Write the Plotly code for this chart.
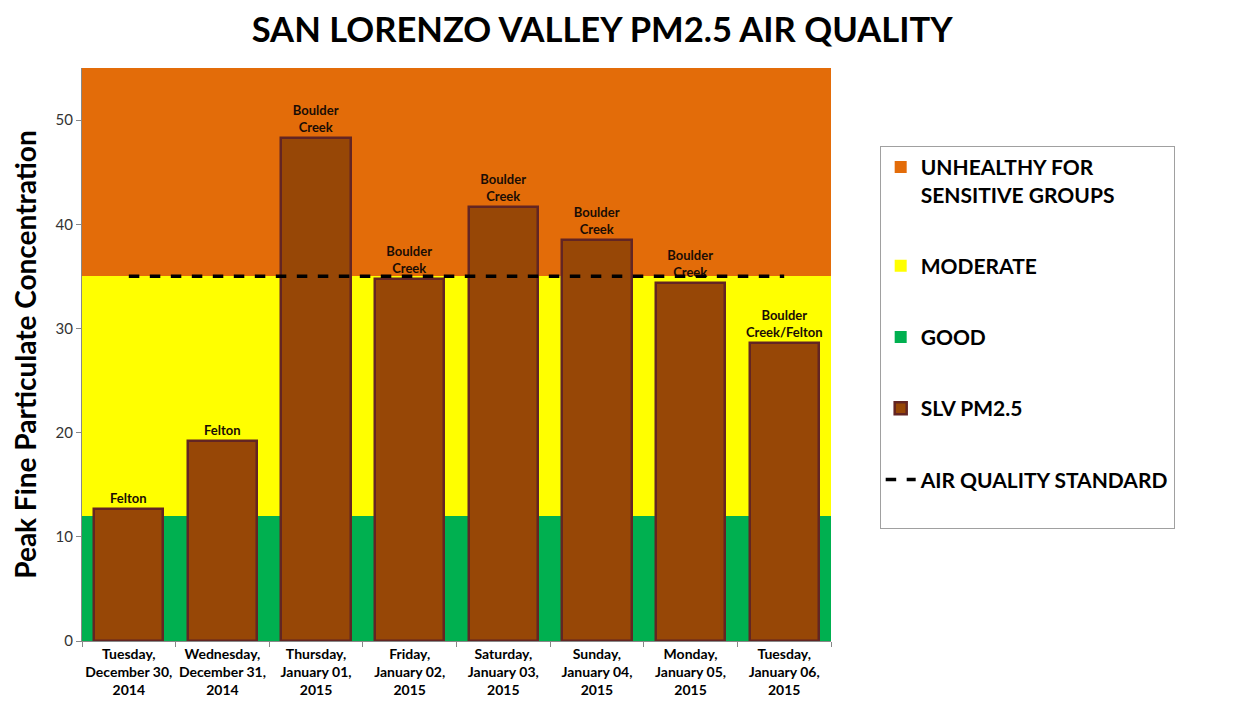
import plotly.graph_objects as go

categories = ["Tuesday,<br>December 30,<br>2014", "Wednesday,<br>December 31,<br>2014",
              "Thursday,<br>January 01,<br>2015", "Friday,<br>January 02,<br>2015",
              "Saturday,<br>January 03,<br>2015", "Sunday,<br>January 04,<br>2015",
              "Monday,<br>January 05,<br>2015", "Tuesday,<br>January 06,<br>2015"]
pm25 = [12.7, 19.2, 48.3, 34.7, 41.7, 38.5, 34.4, 28.6]
locations = ["Felton", "Felton", "Boulder<br>Creek", "Boulder<br>Creek", "Boulder<br>Creek",
             "Boulder<br>Creek", "Boulder<br>Creek", "Boulder<br>Creek/Felton"]
good_max = [12] * 8
moderate_max = [35] * 8
unhealthy_max = [55] * 8
standard = [35] * 8
y_ticks = [0, 10, 20, 30, 40, 50]

FONT = "Lato"

fig = go.Figure()

fig.add_trace(go.Bar(x=categories, y=unhealthy_max, base=0, width=1,
                     name="UNHEALTHY FOR<br>SENSITIVE GROUPS",
                     marker=dict(color="#E36C09", line=dict(width=0)),
                     legendrank=1, legendgroup="a", hoverinfo="skip"))
fig.add_trace(go.Bar(x=categories, y=moderate_max, base=0, width=1, name="MODERATE",
                     marker=dict(color="#FFFF00", line=dict(width=0)),
                     legendrank=2, legendgroup="b", hoverinfo="skip"))
fig.add_trace(go.Bar(x=categories, y=good_max, base=0, width=1, name="GOOD",
                     marker=dict(color="#00B050", line=dict(width=0)),
                     legendrank=3, legendgroup="c", hoverinfo="skip"))
fig.add_trace(go.Bar(x=categories, y=pm25, width=0.74, name="SLV PM2.5",
                     marker=dict(color="#974706", line=dict(color="#632523", width=2.5)),
                     text=locations, textposition="outside", cliponaxis=False,
                     constraintext="none",
                     textfont=dict(family=FONT, size=13, color="#1a0d05", weight="bold"),
                     legendrank=4, legendgroup="d"))
fig.add_trace(go.Scatter(x=categories, y=standard, mode="lines",
                         name="AIR QUALITY STANDARD<br> ",
                         line=dict(color="black", width=3.5, dash="dash"),
                         legendrank=5, legendgroup="e"))

fig.update_layout(
    width=1225, height=706,
    barmode="overlay", bargap=0,
    plot_bgcolor="white", paper_bgcolor="white",
    margin=dict(l=74, r=402, t=60, b=73),
    title=dict(text="SAN LORENZO VALLEY PM2.5 AIR QUALITY", x=0.485, xanchor="center",
               y=0.986, yanchor="top", pad=dict(t=0),
               font=dict(family=FONT, size=34.6, color="black", weight="bold")),
    legend=dict(x=1.065, y=0.864, xanchor="left", yanchor="top",
                bordercolor="#A0A0A0", borderwidth=1, bgcolor="white",
                font=dict(family=FONT, size=21, color="black", weight="bold"),
                tracegroupgap=41, traceorder="grouped", itemwidth=30,
                valign="top", itemclick=False),
    showlegend=True,
)
fig.update_xaxes(showline=True, linecolor="#888888", linewidth=1, ticks="outside",
                 tickson="boundaries", ticklen=5, tickcolor="#888888",
                 tickangle=0, automargin=False,
                 tickfont=dict(family=FONT, size=14, color="black", weight="bold"))
fig.update_yaxes(range=[0, 55], tickvals=y_ticks, showgrid=False, zeroline=False,
                 showline=True, linecolor="#888888", linewidth=1, ticks="outside",
                 ticklen=5, tickcolor="#888888", automargin=False,
                 tickfont=dict(family=FONT, size=15, color="#333333"),
                 title=dict(text="Peak Fine Particulate Concentration", standoff=20,
                            font=dict(family=FONT, size=28, color="black", weight="bold")))

fig.write_html("out.html")
